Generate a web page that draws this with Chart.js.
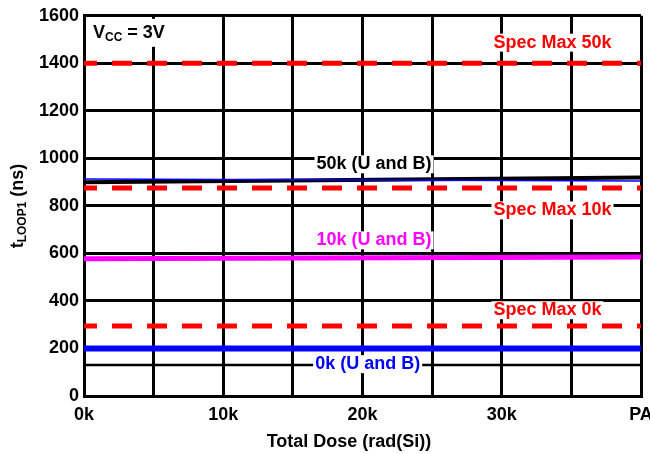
<!DOCTYPE html>
<html>
<head>
<meta charset="utf-8">
<script src="https://cdn.jsdelivr.net/npm/chart.js@4"></script>
<style>
html,body{margin:0;padding:0;background:#fff;}
</style>
</head>
<body>
<canvas id="myChart" width="650" height="454"></canvas>
<script>
// total dose, x positions of the curves (PA plotted as 40k)
var dose = [0, 40000];
var xTickLabels = ['0k', '10k', '20k', '30k', 'PA'];

// tLOOP1 (ns)
var specMax50k = [1400, 1400];
var specMax10k = [875, 875];
var specMax0k = [295, 295];
var t50kB = [900, 920];
var t50kU = [913, 905];
var t10k = [578, 585];
var t0k = [200, 200];
var lowLine = [130, 130];

var FONT = '"Liberation Sans", Arial, sans-serif';

function pts(ys) {
  return dose.map(function(x, i) { return {x: x, y: ys[i]}; });
}

function line(data, color, width, dash) {
  return {
    data: pts(data),
    borderColor: color,
    backgroundColor: color,
    borderWidth: width,
    borderDash: dash || [],
    borderDashOffset: dash ? 7 : 0,
    borderCapStyle: 'butt',
    pointRadius: 0,
    fill: false,
    tension: 0
  };
}

var textLabels = {
  id: 'textLabels',
  afterDatasetsDraw: function(chart) {
    var ctx = chart.ctx;
    var xs = chart.scales.x, ys = chart.scales.y;
    var items = [
      {t: 'Spec Max 50k', x: 29400, y: 1487, c: '#ff0000'},
      {t: '50k (U and B)', x: 16700, y: 975, c: '#000000'},
      {t: 'Spec Max 10k', x: 29400, y: 781, c: '#ff0000'},
      {t: '10k (U and B)', x: 16700, y: 655, c: '#ff00ff'},
      {t: 'Spec Max 0k', x: 29400, y: 361, c: '#ff0000'},
      {t: '0k (U and B)', x: 16600, y: 134, c: '#0000ff'}
    ];
    ctx.save();
    ctx.font = 'bold 18px ' + FONT;
    ctx.textBaseline = 'middle';
    ctx.textAlign = 'left';
    items.forEach(function(it) {
      var px = xs.getPixelForValue(it.x);
      var py = ys.getPixelForValue(it.y);
      var w = ctx.measureText(it.t).width;
      ctx.fillStyle = '#fff';
      ctx.fillRect(px - 2, py - 9, w + 4, 18);
      ctx.fillStyle = it.c;
      ctx.fillText(it.t, px, py);
    });

    // VCC = 3V
    var vx = chart.chartArea.left + 9, vy = chart.chartArea.top + 17;
    ctx.fillStyle = '#fff';
    ctx.fillRect(vx - 4, vy - 14, 84, 28);
    ctx.fillStyle = '#000';
    ctx.font = 'bold 18px ' + FONT;
    ctx.fillText('V', vx, vy);
    var w1 = ctx.measureText('V').width;
    ctx.font = 'bold 12px ' + FONT;
    ctx.fillText('CC', vx + w1, vy + 5);
    var w2 = ctx.measureText('CC').width;
    ctx.font = 'bold 18px ' + FONT;
    ctx.fillText(' = 3V', vx + w1 + w2, vy);

    // x axis title
    ctx.textAlign = 'center';
    ctx.fillText('Total Dose (rad(Si))', 349, 442);

    // y axis title tLOOP1 (ns)
    ctx.translate(18, 206);
    ctx.rotate(-Math.PI / 2);
    ctx.textAlign = 'left';
    ctx.font = 'bold 18px ' + FONT;
    var a = ctx.measureText('t').width;
    var c = ctx.measureText(' (ns)').width;
    ctx.font = 'bold 12px ' + FONT;
    var b = ctx.measureText('LOOP1').width;
    var start = -(a + b + c) / 2;
    ctx.font = 'bold 18px ' + FONT;
    ctx.fillText('t', start, 0);
    ctx.font = 'bold 12px ' + FONT;
    ctx.fillText('LOOP1', start + a, 5);
    ctx.font = 'bold 18px ' + FONT;
    ctx.fillText(' (ns)', start + a + b, 0);
    ctx.restore();
  }
};

var ctx = document.getElementById('myChart').getContext('2d');
var chart = new Chart(ctx, {
  type: 'line',
  data: {
    datasets: [
      line(specMax50k, '#ff0000', 5, [20, 15]),
      line(specMax10k, '#ff0000', 5, [20, 15]),
      line(specMax0k, '#ff0000', 5, [20, 15]),
      line(t50kU, '#0000ff', 1.5),
      line(t50kB, '#000000', 4),
      line(t10k, '#ff00ff', 5),
      line(t0k, '#0000ff', 6),
      line(lowLine, '#000000', 2.5)
    ]
  },
  options: {
    responsive: false,
    animation: false,
    layout: {padding: {top: 15, right: 9, left: 0, bottom: 0}},
    plugins: {legend: {display: false}, tooltip: {enabled: false}},
    scales: {
      x: {
        type: 'linear',
        min: 0,
        max: 40000,
        ticks: {
          stepSize: 5000,
          autoSkip: false,
          maxRotation: 0,
          padding: 8,
          color: '#000',
          font: {family: FONT, size: 18, weight: 'bold'},
          callback: function(v) {
            return v % 10000 === 0 ? xTickLabels[v / 10000] : '';
          }
        },
        grid: {color: '#000', lineWidth: 3, drawTicks: false},
        border: {color: '#000', width: 3},
        afterFit: function(s) {
          s.height = 58;
          s.paddingLeft = 0;
          s.paddingRight = 0;
        }
      },
      y: {
        min: 0,
        max: 1600,
        ticks: {
          stepSize: 200,
          padding: 5,
          color: '#000',
          font: {family: FONT, size: 18, weight: 'bold'},
          callback: function(v) { return String(v); }
        },
        grid: {color: '#000', lineWidth: 3, drawTicks: false},
        border: {color: '#000', width: 3},
        afterFit: function(s) {
          s.width = 84;
        }
      }
    }
  },
  plugins: [textLabels]
});
</script>
</body>
</html>
